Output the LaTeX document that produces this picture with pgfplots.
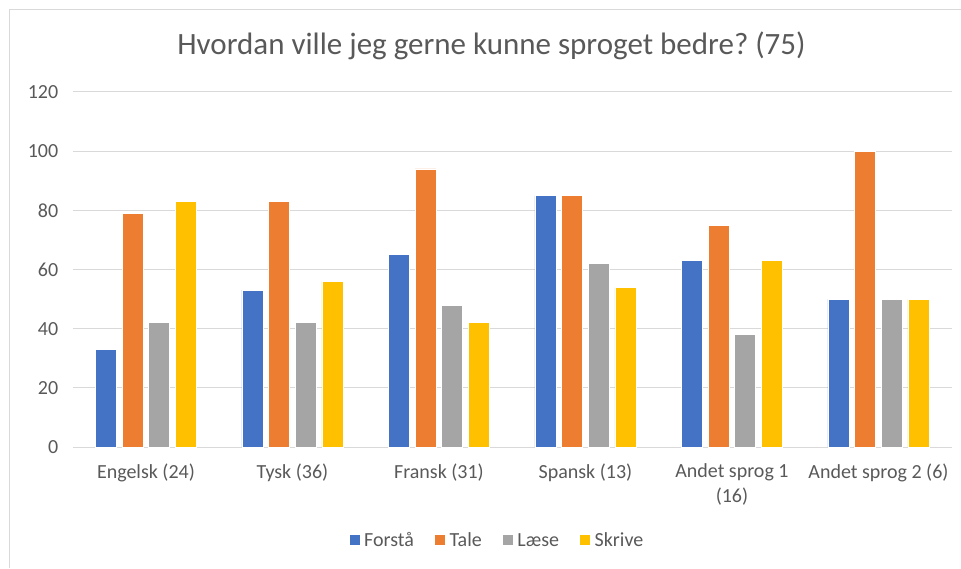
\documentclass[border=0pt]{standalone}
\usepackage{pgfplots}
\pgfplotsset{compat=1.18}
\usepackage{fontspec}
\setmainfont{Carlito}
\frenchspacing
\definecolor{cblue}{HTML}{4472C4}
\definecolor{corange}{HTML}{ED7D31}
\definecolor{cgray}{HTML}{A5A5A5}
\definecolor{cyellow}{HTML}{FFC000}
\definecolor{gridc}{HTML}{D9D9D9}
\definecolor{txt}{HTML}{595959}
\begin{document}
\begin{tikzpicture}[x=1pt,y=1pt]
\path[use as bounding box] (0,0) rectangle (961,568);
\draw[color=gridc, line width=1pt] (9.5,0) -- (9.5,558.5) -- (961,558.5);
\node[anchor=base, text=txt, font=\fontsize{31}{37}\selectfont] at (491.5,513) {Hvordan ville jeg gerne kunne sproget bedre? (75)};
\begin{axis}[
  at={(72.7pt,121pt)}, anchor=south west,
  scale only axis, width=879pt, height=355pt,
  xmin=-0.5, xmax=5.5, ymin=0, ymax=120,
  ytick={0,20,...,120},
  xtick={0,...,5},
  xticklabels={Engelsk (24),Tysk (36),Fransk (31),Spansk (13),{Andet sprog 1\\(16)},Andet sprog 2 (6)},
  axis line style={draw=none},
  major tick style={draw=none},
  ymajorgrids,
  grid style={color=gridc, line width=1pt},
  /pgf/number format/assume math mode=true,
  ticklabel style={text=txt, font=\fontsize{20}{25}\selectfont},
  yticklabel style={xshift=-11pt},
  xticklabel style={align=center, yshift=-9pt},
  ybar, bar width=21pt,
  legend columns=4,
  legend style={at={(0.4827,-0.2676)}, anchor=center, draw=none, fill=none,
    font=\fontsize{20}{24}\selectfont, text=txt,
    nodes={text height=14pt, text depth=5pt},
    /tikz/every odd column/.append style={column sep=2pt},
    /tikz/every even column/.append style={column sep=18pt}},
  legend image code/.code={\fill[#1] (0pt,-3.5pt) rectangle (11pt,7.5pt);},
]
\addplot[fill=cblue, draw=white, line width=0.6pt, bar shift=-40pt] coordinates {(0,33) (1,53) (2,65) (3,85) (4,63) (5,50)};
\addplot[fill=corange, draw=white, line width=0.6pt, bar shift=-13.3pt] coordinates {(0,79) (1,83) (2,94) (3,85) (4,75) (5,100)};
\addplot[fill=cgray, draw=white, line width=0.6pt, bar shift=13.3pt] coordinates {(0,42) (1,42) (2,48) (3,62) (4,38) (5,50)};
\addplot[fill=cyellow, draw=white, line width=0.6pt, bar shift=40pt] coordinates {(0,83) (1,56) (2,42) (3,54) (4,63) (5,50)};
\legend{Forstå,Tale,Læse,Skrive}
\end{axis}
\end{tikzpicture}
\end{document}
